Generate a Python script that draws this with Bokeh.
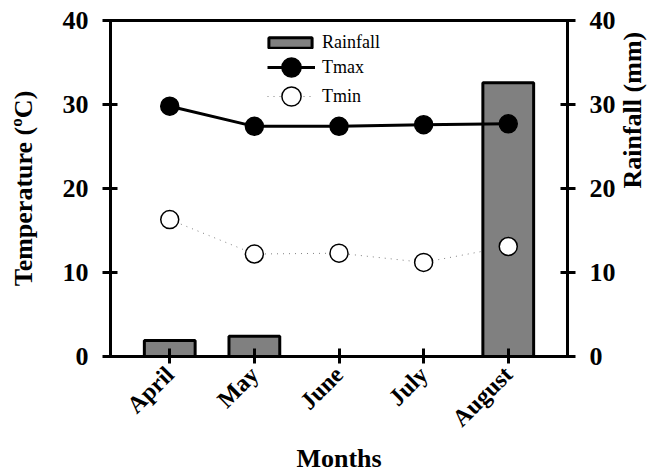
import math
from bokeh.plotting import figure
from bokeh.models import Range1d, LinearAxis, FixedTicker, Legend, LegendItem, ColumnDataSource
from bokeh.embed import file_html
from bokeh.resources import INLINE

months = ["April", "May", "June", "July", "August"]
month_pos = [1, 2, 3, 4, 5]
rainfall = [1.9, 2.4, 0.0, 0.0, 32.6]
tmax = [29.8, 27.4, 27.4, 27.6, 27.7]
tmin = [16.3, 12.2, 12.3, 11.2, 13.1]
y_ticks = [0, 10, 20, 30, 40]

src = ColumnDataSource(dict(x=month_pos, rain=rainfall, tmax=tmax, tmin=tmin))

FONT = "Liberation Serif"

p = figure(width=667, height=475, output_backend="svg", toolbar_location=None,
           x_range=Range1d(0.3, 5.7), y_range=Range1d(0, 40),
           min_border_left=110, min_border_right=100, min_border_top=20, min_border_bottom=119)
p.extra_y_ranges = {"rain": Range1d(0, 40)}

p.xgrid.grid_line_color = None
p.ygrid.grid_line_color = None
p.outline_line_color = "black"
p.outline_line_width = 3
p.outline_line_alpha = 1
p.background_fill_color = "white"
p.border_fill_color = "white"

bars = p.vbar(x="x", top="rain", width=0.6, bottom=0, source=src, y_range_name="rain",
              fill_color="#808080", line_color="black", line_width=3)
l_min = p.line("x", "tmin", source=src, line_color="#808080", line_width=1, line_dash="1 5")
l_max = p.line("x", "tmax", source=src, line_color="black", line_width=3)
c_min = p.scatter("x", "tmin", source=src, marker="circle", size=18,
                  fill_color="white", line_color="black", line_width=1.5)
c_max = p.scatter("x", "tmax", source=src, marker="circle", size=18,
                  fill_color="black", line_color="black", line_width=1.5)

right = LinearAxis(y_range_name="rain", axis_label="Rainfall (mm)")
p.add_layout(right, "right")

p.xaxis.ticker = FixedTicker(ticks=month_pos)
p.xaxis.major_label_overrides = {m: lab for m, lab in zip(month_pos, months)}
p.xaxis.major_label_orientation = math.pi / 4
p.xaxis.axis_label = "Months"
p.yaxis[0].axis_label = "Temperature (ºC)"

for ax in p.yaxis:
    ax.ticker = FixedTicker(ticks=y_ticks)
    ax.major_label_text_font_size = "26px"
    ax.major_label_standoff = 14
    ax.major_tick_in = 7
    ax.major_tick_out = 8
for ax in list(p.xaxis) + list(p.yaxis):
    ax.axis_line_width = 3
    ax.axis_line_color = "black"
    ax.major_tick_line_width = 3
    ax.major_tick_line_color = "black"
    ax.minor_tick_line_color = None
    ax.major_label_text_font = FONT
    ax.major_label_text_font_style = "bold"
    ax.major_label_text_color = "black"
    ax.axis_label_text_font = FONT
    ax.axis_label_text_font_style = "bold"
    ax.axis_label_text_color = "black"
    ax.axis_label_text_font_size = "26px"
p.xaxis.major_tick_in = 8
p.xaxis.major_tick_out = 7
p.xaxis.major_label_text_font_size = "24px"
p.xaxis.major_label_standoff = 7
p.xaxis.axis_label_standoff = 0
p.yaxis[0].axis_label_standoff = 22
right.axis_label_standoff = 14
right.axis_label_orientation = math.pi / 2
right.axis_label_text_baseline = "bottom"


def make_legend(item, loc, gw, gh, standoff):
    lg = Legend(items=[item], location=loc)
    lg.border_line_color = None
    lg.background_fill_alpha = 0
    lg.label_text_font = FONT
    lg.label_text_font_size = "18px"
    lg.label_text_color = "black"
    lg.glyph_width = gw
    lg.glyph_height = gh
    lg.label_height = min(gh, 20)
    lg.spacing = 0
    lg.padding = 0
    lg.margin = 0
    lg.label_standoff = standoff
    p.add_layout(lg, "center")


make_legend(LegendItem(label="Rainfall", renderers=[bars]), (153, 303), 54, 13, 5)
make_legend(LegendItem(label="Tmax", renderers=[l_max, c_max]), (157, 264), 48, 50, 7)
make_legend(LegendItem(label="Tmin", renderers=[l_min, c_min]), (157, 235), 48, 50, 7)

open("out.html", "w").write(file_html(p, INLINE))
